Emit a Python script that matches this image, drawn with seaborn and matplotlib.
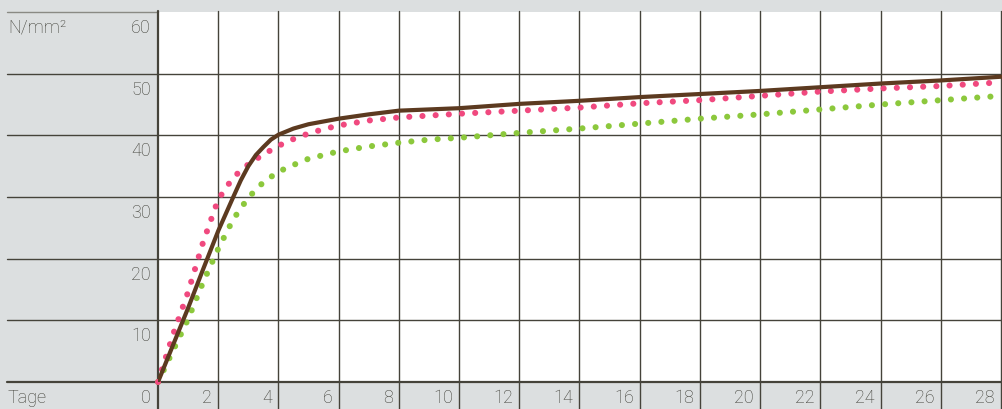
import matplotlib
matplotlib.use("Agg")
import matplotlib.pyplot as plt
import matplotlib.transforms as mtransforms
import seaborn as sns
import numpy as np

# Compressive strength (N/mm²) over days ("Tage"), three products
DAYS_BROWN = [0, 0.5, 1, 1.5, 2, 2.5, 2.75, 3, 3.25, 3.5, 3.75, 4, 4.5, 5, 6, 7, 8, 10, 12, 14, 16, 18, 20, 22, 24, 26, 28]
BROWN = [0, 6.0, 12.0, 18.3, 24.5, 30.0, 32.7, 35.0, 36.8, 38.1, 39.3, 40.1, 41.1, 41.8, 42.7, 43.4, 44.0, 44.4, 45.1, 45.6, 46.2, 46.7, 47.2, 47.8, 48.4, 48.9, 49.5]

DAYS_PINK = [0, 0.5, 1, 1.5, 2, 2.5, 3, 3.5, 4, 4.5, 5, 5.5, 6, 7, 8, 9, 10, 12, 14, 16, 18, 20, 22, 24, 26, 28]
PINK = [0, 7.7, 14.6, 22.7, 29.6, 33.2, 35.3, 36.9, 38.3, 39.4, 40.3, 41.0, 41.6, 42.4, 42.9, 43.2, 43.5, 44.0, 44.5, 45.2, 45.7, 46.4, 47.1, 47.6, 48.0, 48.6]

DAYS_GREEN = [0, 0.5, 1, 1.5, 2, 2.5, 3, 3.5, 4, 4.5, 5, 6, 7, 8, 9, 10, 12, 14, 16, 18, 20, 22, 24, 26, 28]
GREEN = [0, 5.1, 10.2, 16.2, 21.6, 26.4, 29.9, 32.4, 34.1, 35.2, 36.2, 37.4, 38.2, 38.8, 39.3, 39.6, 40.4, 41.1, 41.9, 42.7, 43.4, 44.2, 45.0, 45.7, 46.4]

Y_TICKS = [0, 10, 20, 30, 40, 50, 60]
X_TICKS = [0, 2, 4, 6, 8, 10, 12, 14, 16, 18, 20, 22, 24, 26, 28]

BG = "#dcdfe0"
GRID = "#45433a"
TEXT = "#3e3e36"


def main():
    sns.set_style("white")
    plt.rcParams["font.family"] = ["Roboto", "DejaVu Sans"]

    fig = plt.figure(figsize=(10.02, 4.10), dpi=100, facecolor=BG)
    # plot area: x 158..1002 px, y 13..383 px
    ax = fig.add_axes([158 / 1002, 27 / 410, 844 / 1002, 370 / 410])
    ax.set_facecolor("white")
    ax.set_xlim(0, 28.035)
    ax.set_ylim(0, 60)
    for s in ax.spines.values():
        s.set_visible(False)
    ax.set_xticks([])
    ax.set_yticks([])

    # horizontal lines, reaching into the grey label column
    left_frac = (7 - 158) / 844
    for v in Y_TICKS:
        if v == 60:
            ax.axhline(v, xmin=left_frac, xmax=0, color="#8a8a84", lw=1.0, clip_on=False, zorder=1)
        else:
            ax.axhline(v, xmin=left_frac, xmax=1, color=GRID, lw=1.6 if v == 0 else 1.0,
                       clip_on=False, zorder=1)

    # vertical lines, reaching down into the grey label row
    bottom_frac = (383 - 410) / 370
    top_frac = 1 + 1 / 370
    for d in X_TICKS:
        ax.axvline(d, ymin=bottom_frac, ymax=top_frac, color=GRID,
                   lw=1.6 if d == 0 else 1.0, clip_on=False, zorder=1)

    # curves
    sns.lineplot(x=DAYS_GREEN, y=GREEN, ax=ax, color="#8cc83c", sort=False)
    sns.lineplot(x=DAYS_PINK, y=PINK, ax=ax, color="#f0497f", sort=False)
    sns.lineplot(x=DAYS_BROWN, y=BROWN, ax=ax, color="#5c3a20", sort=False)
    green_line, pink_line, brown_line = ax.get_lines()[-3:]
    for ln in (green_line, pink_line):
        ln.set_linewidth(4.4)
        ln.set_dashes((0.01, 2.15))
        ln.set_dash_capstyle("round")
        ln.set_clip_on(False)
        ln.set_zorder(3)
    brown_line.set_linewidth(3.0)
    brown_line.set_solid_capstyle("round")
    brown_line.set_solid_joinstyle("round")
    brown_line.set_zorder(4)

    # labels (the shared "0" in the corner is drawn once)
    ytrans = mtransforms.blended_transform_factory(ax.transAxes, ax.transData)
    off = mtransforms.offset_copy
    font = dict(fontsize=13, color=TEXT, fontweight="light")
    for v in Y_TICKS:
        ax.text(0, v, str(v), transform=off(ytrans, fig=fig, x=-7, y=-15, units="dots"),
                ha="right", va="center", **font)
    xtrans = mtransforms.blended_transform_factory(ax.transData, ax.transAxes)
    for d in X_TICKS[1:]:
        ax.text(d, 0, str(d), transform=off(xtrans, fig=fig, x=-6, y=-15, units="dots"),
                ha="right", va="center", **font)

    fig.text(8 / 1002, 1 - 27 / 410, "N/mm²", ha="left", va="center", **font)
    fig.text(8 / 1002, 1 - 398 / 410, "Tage", ha="left", va="center", **font)

    fig.savefig("out.png", dpi=100, facecolor=BG)


if __name__ == "__main__":
    main()
